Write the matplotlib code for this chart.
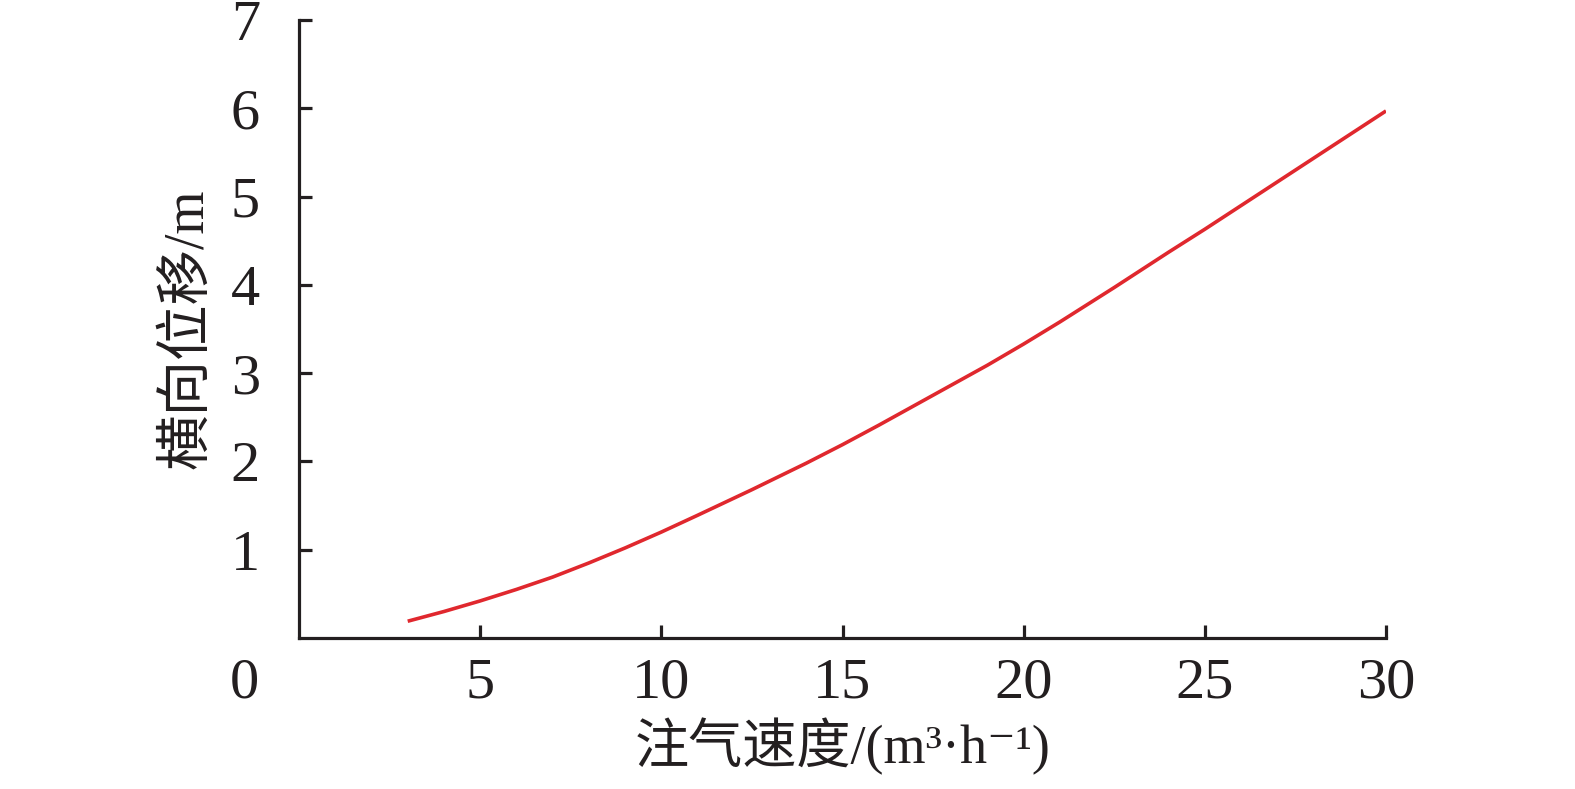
import matplotlib
matplotlib.use("Agg")
import matplotlib.pyplot as plt

# Data
gas_rate = [3, 4, 5, 6, 7, 8, 9, 10, 11, 12.5, 14, 15, 16, 17.5, 19, 20, 21, 22.5, 24, 25, 27.5, 30]
lateral_disp = [0.19, 0.30, 0.42, 0.55, 0.69, 0.85, 1.02, 1.20, 1.39, 1.68, 1.98, 2.19, 2.41, 2.75, 3.09, 3.33, 3.58, 3.97, 4.37, 4.63, 5.30, 5.97]
x_ticks = [5, 10, 15, 20, 25, 30]
y_ticks = [1, 2, 3, 4, 5, 6, 7]
x_label = "注气速度/(m³·h⁻¹)"
y_label = "横向位移/m"

fams = ['Liberation Serif', 'Noto Sans CJK SC', 'DejaVu Serif']
plt.rcParams['font.family'] = fams

W, H = 1575, 789
fig = plt.figure(figsize=(W / 100, H / 100), dpi=100)
L, R, B, T = 299, 1386, 638, 20
ax = fig.add_axes([L / W, 1 - B / H, (R - L) / W, (B - T) / H])

ax.plot(gas_rate, lateral_disp, color='#e0282e', lw=2.6, solid_capstyle='butt',
        solid_joinstyle='round')

ax.set_xlim(0, 30)
ax.set_ylim(0, 7)
ax.set_xticks(x_ticks)
ax.set_yticks(y_ticks)
ax.set_xticklabels([str(v) for v in x_ticks])
ax.set_yticklabels([str(v) for v in y_ticks])

for s in ['top', 'right']:
    ax.spines[s].set_visible(False)
for s in ['left', 'bottom']:
    ax.spines[s].set_linewidth(2.3)
    ax.spines[s].set_color('#231f20')

ax.tick_params(axis='both', direction='in', length=9.5, width=2.3, colors='#231f20',
               labelsize=42, labelcolor='#231f20')
ax.tick_params(axis='x', pad=14)
ax.tick_params(axis='y', pad=28)

# shared origin label
ax.text(-1.5, -0.52, '0', fontsize=42, color='#231f20', ha='center', va='center',
        transform=ax.transData, clip_on=False)

ax.set_xlabel(x_label, fontsize=39, color='#231f20', labelpad=6)
ax.set_ylabel(y_label, fontsize=40, color='#231f20', labelpad=12)

fig.savefig('out.png', dpi=100, facecolor='white')
